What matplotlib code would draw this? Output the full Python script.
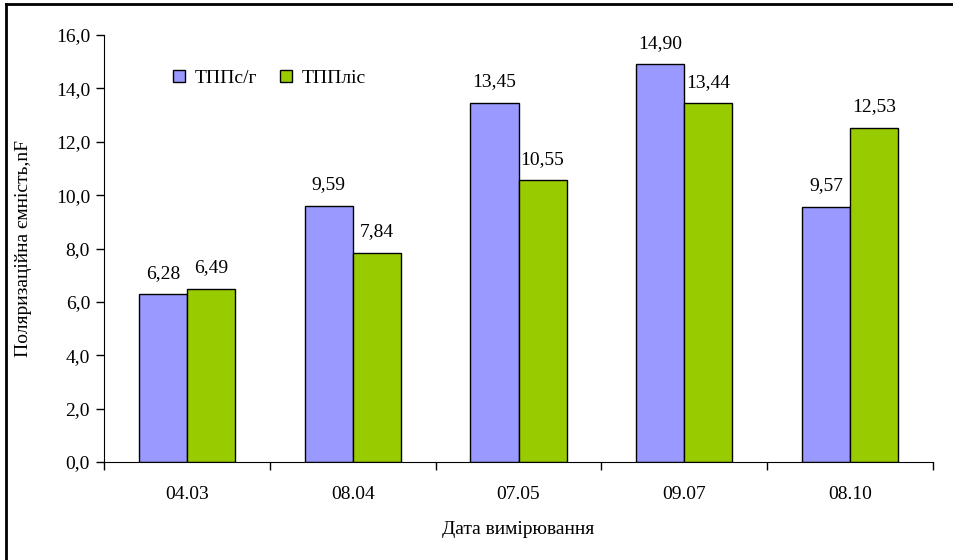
import numpy as np
import matplotlib.pyplot as plt
from matplotlib.lines import Line2D

dates = ["04.03", "08.04", "07.05", "09.07", "08.10"]
tpp_sg = [6.28, 9.59, 13.45, 14.90, 9.57]
tpp_lis = [6.49, 7.84, 10.55, 13.44, 12.53]
series_names = ["ТППс/г", "ТППліс"]

plt.rcParams['font.family'] = ['Liberation Serif', 'DejaVu Serif']
plt.rcParams['font.size'] = 14

fig = plt.figure(figsize=(9.54, 5.6), dpi=100)
ax = fig.add_axes([104 / 954, 1 - 462 / 560, (933 - 104) / 954, (462 - 35) / 560])

x = np.arange(len(dates))
w = 0.29
b1 = ax.bar(x - w / 2, tpp_sg, w, color='#9999FF', edgecolor='black', lw=1, label=series_names[0])
b2 = ax.bar(x + w / 2, tpp_lis, w, color='#99CC00', edgecolor='black', lw=1, label=series_names[1])

for bars in (b1, b2):
    for rect in bars:
        h = rect.get_height()
        ax.annotate(f"{h:.2f}".replace('.', ','), (rect.get_x() + rect.get_width() / 2, h),
                    xytext=(0, 9), textcoords='offset points', ha='center', va='bottom')

ax.set_xlim(-0.5, len(dates) - 0.5)
ax.set_ylim(0, 16)
ax.set_yticks(np.arange(0, 17, 2))
ax.set_yticklabels([f"{v:.1f}".replace('.', ',') for v in np.arange(0, 17, 2)])
ax.set_xticks(x)
ax.set_xticklabels(dates)
ax.set_xticks(np.arange(-0.5, len(dates), 1), minor=True)
ax.tick_params(axis='x', which='major', length=0, pad=17)
ax.tick_params(axis='x', which='minor', length=6, width=1)
ax.tick_params(axis='y', length=6, width=1, pad=4)
ax.spines['top'].set_visible(False)
ax.spines['right'].set_visible(False)

ax.set_xlabel("Дата вимірювання", labelpad=13)
ax.set_ylabel("Поляризаційна ємність,nF", labelpad=17)

ax.legend(loc='upper left', bbox_to_anchor=(0.062, 0.96), ncol=2, frameon=False,
          handlelength=0.6, handleheight=0.6, handletextpad=0.5, columnspacing=1.2)

# outer frame (left and top visible)
fig.add_artist(Line2D([6.5 / 954, 6.5 / 954], [1 - 4 / 560, 0], color='black', lw=2, transform=fig.transFigure))
fig.add_artist(Line2D([6.5 / 954, 1], [1 - 4 / 560, 1 - 4 / 560], color='black', lw=2, transform=fig.transFigure))

fig.savefig("out.png", dpi=100)
